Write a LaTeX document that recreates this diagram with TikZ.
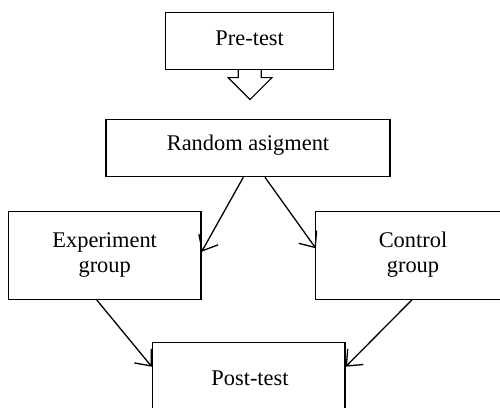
\documentclass[tikz,border=0pt]{standalone}
\usepackage{fontspec}
\setmainfont{Liberation Serif}
\usetikzlibrary{arrows.meta,calc}
\begin{document}
\begin{tikzpicture}[x=1pt,y=1pt,
  box/.style={draw, line width=1.2pt, minimum width=#1, inner sep=0pt},
  lbl/.style={font=\fontsize{22.4}{25}\selectfont, align=center},
  conn/.style={line width=1.3pt, -{Straight Barb[length=13pt,width=22pt,line width=1.3pt]}}]
\useasboundingbox (0,0) rectangle (500,-407);
\clip (0,0) rectangle (500,-407);
\node[box=168pt, minimum height=56.6pt] (pre) at (249.7,-41) {};
\node[lbl] (pret) at ($(pre.center)+(0,3)$) {Pre-test};
\node[box=284pt, minimum height=57.4pt] (rand) at (248,-148) {};
\node[lbl] (randt) at ($(rand.center)+(0,3)$) {Random asigment};
\node[box=192.7pt, minimum height=87.6pt] (exp) at (104.7,-255.5) {};
\node[lbl] (expt) at ($(exp.center)+(0,1)$) {Experiment\\group};
\node[inner sep=0pt, minimum width=220pt, minimum height=87.6pt] (ctrl) at (426,-255.5) {};
\draw[line width=1.2pt] ($(ctrl.north west)+(30,0)$) -- (ctrl.north west) -- (ctrl.south west) -- ($(ctrl.south west)+(200,0)$);
\draw[line width=1.2pt] (ctrl.north west) -- ($(ctrl.north west)+(200,0)$);
\node[lbl] (ctrlt) at (413,-254.5) {Control\\group};
\node[box=192.7pt, minimum height=87.6pt] (post) at (248.7,-386) {};
\node[lbl, anchor=center] (postt) at (250,-378) {Post-test};
\draw[line width=1.2pt, line join=miter]
  ($(pre.south)+(-11.5,0)$) -- ++(0,-7.7) -- ++(-10,0) -- ($(pre.south)+(0.3,-29.7)$)
  -- ($(pre.south)+(22.3,-7.7)$) -- ($(pre.south)+(11.5,-7.7)$) -- ($(pre.south)+(11.5,0)$);
\draw[conn] ($(rand.south)+(-4.7,0)$) -- ($(exp.east)+(0,3.8)$);
\draw[conn] ($(rand.south)+(17,0)$) -- ($(ctrl.west)+(0,7.2)$);
\draw[conn] ($(exp.south)+(-8,0)$) -- ($(post.west)+(0,19.3)$);
\draw[conn] ($(ctrl.south)+(-13.7,0)$) -- ($(post.east)+(0,19.3)$);
\end{tikzpicture}
\end{document}
